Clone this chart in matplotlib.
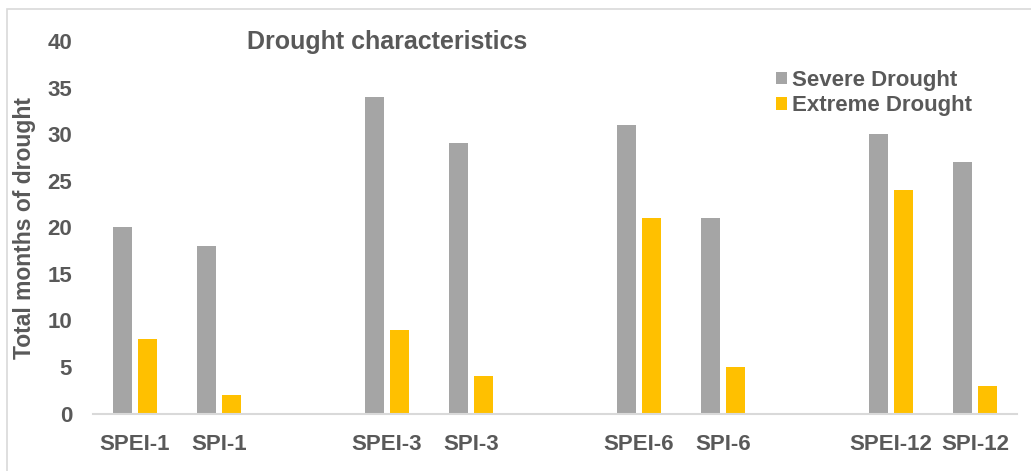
import matplotlib
matplotlib.use("Agg")
from matplotlib import pyplot as plt
from matplotlib.patches import Rectangle
import numpy as np

# drought months per index (severe / extreme)
indices = ["SPEI-1", "SPI-1", "SPEI-3", "SPI-3", "SPEI-6", "SPI-6", "SPEI-12", "SPI-12"]
severe = [20, 18, 34, 29, 31, 21, 30, 27]
extreme = [8, 2, 9, 4, 21, 5, 24, 3]
yticks = [0, 5, 10, 15, 20, 25, 30, 35, 40]

text_col = "#595959"
grey = "#A5A5A5"
yellow = "#FFC000"

plt.rcParams["font.family"] = ["Liberation Sans", "DejaVu Sans"]
plt.rcParams["font.weight"] = "bold"

fig = plt.figure(figsize=(10.31, 4.71), dpi=100)
ax = fig.add_axes([93 / 1031, 57.5 / 471, 924 / 1031, 372.5 / 471])

# pairs of indices, with an empty slot between each pair
n = len(indices)
pos = np.arange(n) + np.arange(n) // 2
w = 0.226
off = 0.143
ax.bar(pos - off, severe, width=w, color=grey, label="Severe Drought", zorder=2)
ax.bar(pos + off, extreme, width=w, color=yellow, label="Extreme Drought", zorder=2)

ax.set_xlim(-0.5, pos[-1] + 0.5)
ax.set_ylim(0, 40)
ax.set_yticks(yticks)
ax.set_xticks(pos)
ax.set_xticklabels(indices)
ax.tick_params(axis="both", length=0, labelsize=16, labelcolor=text_col)
ax.tick_params(axis="y", pad=15)
ax.tick_params(axis="x", pad=15)
for lab in ax.get_xticklabels() + ax.get_yticklabels():
    lab.set_fontweight("bold")

for s in ["top", "right", "left"]:
    ax.spines[s].set_visible(False)
ax.spines["bottom"].set_color("#D9D9D9")
ax.spines["bottom"].set_linewidth(1.5)
ax.spines["bottom"].set_zorder(3)

fig.text(25 / 1031, 1 - 228 / 471, "Total months of drought", rotation=90,
         ha="center", va="center", fontsize=16.5, color=text_col, fontweight="bold")
fig.text(247 / 1031, 1 - 42 / 471, "Drought characteristics", ha="left", va="center",
         fontsize=18, color=text_col, fontweight="bold")

leg = ax.legend(loc="upper left", bbox_to_anchor=(776 / 1031, 1 - 70 / 471),
                bbox_transform=fig.transFigure, frameon=False, fontsize=16,
                handlelength=0.5, handleheight=0.5, handletextpad=0.2,
                labelspacing=0.2, borderpad=0, borderaxespad=0)
for t in leg.get_texts():
    t.set_color(text_col)
    t.set_fontweight("bold")

# chart border
fig.patches.append(Rectangle((7 / 1031, -0.1), 1.1, 1 - 9 / 471 + 0.1,
                             transform=fig.transFigure, fill=False,
                             edgecolor="#D9D9D9", linewidth=1.2))

fig.savefig("out.png", dpi=100)
